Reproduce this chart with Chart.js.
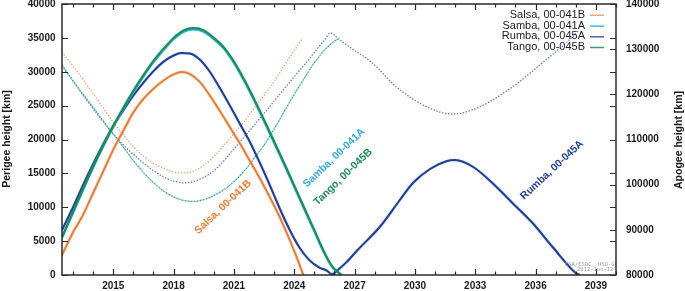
<!DOCTYPE html>
<html><head><meta charset="utf-8">
<script src="https://cdn.jsdelivr.net/npm/chart.js@4"></script>
<style>html,body{margin:0;padding:0;background:#fff;}canvas{display:block;}</style>
</head><body>
<canvas id="c" width="685" height="291"></canvas>
<script>
// ---- tick labels ----
const xTickYears = [2015, 2018, 2021, 2024, 2027, 2030, 2033, 2036, 2039];
const perigeeTicks = [0, 5000, 10000, 15000, 20000, 25000, 30000, 35000, 40000];
const apogeeTicks = [80000, 90000, 100000, 110000, 120000, 130000, 140000];

// ---- perigee (solid lines, left axis) ----
const salsaPeriYears = [2012.45, 2013.0, 2013.5, 2014.0, 2014.5, 2015.0, 2015.5, 2016.0, 2016.5, 2017.0, 2017.5, 2018.0, 2018.4, 2018.8, 2019.3, 2019.8, 2020.3, 2020.8, 2021.3, 2021.8, 2022.3, 2022.8, 2023.3, 2023.8, 2024.2, 2024.45];
const salsaPeriKm    = [2950, 6300, 8900, 12100, 15300, 18500, 21300, 24000, 26000, 27500, 28700, 29600, 29950, 29700, 28500, 26500, 24200, 21800, 19400, 16800, 14200, 11400, 8400, 5000, 2000, 0];

const sambaPeriYears = [2012.45, 2013.0, 2013.5, 2014.0, 2014.5, 2015.0, 2015.5, 2016.0, 2016.5, 2017.0, 2017.5, 2018.0, 2018.5, 2019.0, 2019.5, 2020.0, 2020.5, 2021.0, 2021.5, 2022.0, 2022.5, 2023.0, 2023.5, 2024.0, 2024.5, 2025.0, 2025.5, 2025.9, 2026.35];
const sambaPeriKm    = [5500, 9200, 12600, 15900, 19000, 21900, 24550, 27000, 29300, 31400, 33200, 34800, 35900, 36250, 35900, 34800, 33400, 31300, 28700, 25800, 22700, 19500, 16300, 13000, 9700, 6450, 3200, 1150, 0];

const rumbaPeriYears = [2012.45, 2013.0, 2013.5, 2014.0, 2014.5, 2015.0, 2015.5, 2016.0, 2016.5, 2017.0, 2017.5, 2018.0, 2018.4, 2018.8, 2019.3, 2019.8, 2020.3, 2020.8, 2021.3, 2021.75, 2022.25, 2022.75, 2023.25, 2023.75, 2024.25, 2024.75, 2025.25, 2025.6, 2025.88, 2026.15, 2026.6, 2027.15, 2028.25, 2029.25, 2029.9, 2030.75, 2031.6, 2032.0, 2032.9, 2033.85, 2034.85, 2035.85, 2036.85, 2038.0, 2038.2];
const rumbaPeriKm    = [6640, 10000, 13300, 16400, 19300, 22000, 24300, 26500, 28400, 30100, 31500, 32400, 32750, 32700, 31800, 30000, 27600, 25000, 22300, 19900, 16800, 13500, 10000, 6800, 4100, 2200, 1100, 700, 100, 700, 1900, 3690, 7085, 11070, 13580, 15650, 16830, 16970, 15940, 13580, 10630, 7675, 4130, 300, 0];

const tangoPeriYears = [2012.45, 2013.0, 2013.5, 2014.0, 2014.5, 2015.0, 2015.5, 2016.0, 2016.5, 2017.0, 2017.5, 2018.0, 2018.5, 2019.0, 2019.5, 2020.0, 2020.5, 2021.0, 2021.5, 2022.0, 2022.5, 2023.0, 2023.5, 2024.0, 2024.5, 2025.0, 2025.5, 2025.9, 2026.35];
const tangoPeriKm    = [5600, 9300, 12700, 16000, 19100, 22000, 24700, 27200, 29500, 31600, 33400, 35000, 36100, 36450, 36100, 35000, 33600, 31500, 28900, 26000, 22900, 19700, 16500, 13200, 9900, 6600, 3300, 1200, 0];

// ---- apogee (dotted lines, right axis) ----
const salsaApoYears = [2012.45, 2013.0, 2013.5, 2014.0, 2014.5, 2015.0, 2015.5, 2016.0, 2016.5, 2017.0, 2017.5, 2018.0, 2018.5, 2019.0, 2019.5, 2020.0, 2020.5, 2021.0, 2021.5, 2022.0, 2022.5, 2023.0, 2023.5, 2024.0, 2024.42];
const salsaApoKm    = [129370, 126200, 123300, 120100, 117000, 113800, 111000, 108400, 106300, 104700, 103600, 102800, 102600, 103000, 104300, 106200, 108700, 111300, 113900, 116900, 119800, 122900, 126300, 129700, 132470];

const sambaApoYears = [2012.45, 2013.0, 2013.5, 2014.0, 2014.5, 2015.0, 2015.5, 2016.0, 2016.5, 2017.0, 2017.5, 2018.0, 2018.5, 2019.0, 2019.5, 2020.0, 2020.5, 2021.0, 2021.5, 2022.0, 2022.5, 2023.0, 2023.5, 2024.0, 2024.5, 2025.0, 2025.5, 2026.0, 2026.25];
const sambaApoKm    = [126500, 123000, 120000, 117100, 114100, 111200, 108300, 105300, 102700, 100400, 98600, 97300, 96500, 96300, 96700, 97600, 98900, 100700, 103000, 105800, 108800, 112300, 116200, 120000, 123600, 127000, 129800, 131800, 132500];

const rumbaApoYears = [2012.45, 2013.0, 2013.5, 2014.0, 2014.5, 2015.0, 2015.5, 2016.0, 2016.5, 2017.0, 2017.5, 2018.0, 2018.5, 2019.0, 2019.5, 2020.0, 2020.5, 2021.0, 2021.5, 2022.0, 2022.5, 2023.0, 2023.5, 2024.0, 2024.5, 2025.0, 2025.5, 2025.8, 2026.2, 2026.75, 2027.89, 2029.08, 2030.72, 2031.86, 2033.2, 2034.84, 2036.33, 2037.67, 2038.17];
const rumbaApoKm    = [126270, 122900, 119800, 116800, 113900, 111200, 108800, 106700, 104800, 103100, 101700, 100800, 100400, 100700, 101600, 103100, 105300, 107900, 110500, 113100, 115800, 118500, 121200, 123900, 126500, 129300, 132000, 133600, 132300, 130480, 126940, 121620, 116970, 115650, 117200, 121620, 126940, 132030, 134240];

const tangoApoYears = [2012.45, 2013.0, 2013.5, 2014.0, 2014.5, 2015.0, 2015.5, 2016.0, 2016.5, 2017.0, 2017.5, 2018.0, 2018.5, 2019.0, 2019.5, 2020.0, 2020.5, 2021.0, 2021.5, 2022.0, 2022.5, 2023.0, 2023.5, 2024.0, 2024.5, 2025.0, 2025.5, 2026.0, 2026.25];
const tangoApoKm    = [126490, 123000, 120000, 117100, 114100, 111200, 108300, 105300, 102700, 100400, 98600, 97300, 96500, 96300, 96700, 97600, 98900, 100700, 103000, 105800, 108800, 112300, 116200, 120000, 123600, 127000, 129800, 131800, 132470];

// ---- names ----
const names = ['Salsa, 00-041B', 'Samba, 00-041A', 'Rumba, 00-045A', 'Tango, 00-045B'];

function pts(xs, ys) { return xs.map((x, i) => ({ x: x, y: ys[i] })); }

const FONT = '"Liberation Sans", Arial, Helvetica, sans-serif';
const solidCol = { salsa: '#ef7a30', samba: '#36aee3', rumba: '#1e3f99', tango: '#178e57' };
const dotCol   = { salsa: '#f3a377', samba: '#86d3d8', rumba: '#6176c0', tango: '#3b9e7c' };
const legendCol = ['#f4a274', '#3cb6e8', '#4a62b0', '#3c9c6c'];

function solid(data, col, halo, order) {
  return { data: data, yAxisID: 'y', borderColor: col, borderWidth: 2, pointRadius: 0,
    cubicInterpolationMode: 'monotone', fill: false, halo: halo, order: order };
}
function dotted(data, col, order, offset) {
  return { data: data, yAxisID: 'y2', borderColor: col, borderWidth: 1.3, pointRadius: 0,
    borderDash: [1.4, 1.6], borderDashOffset: offset || 0,
    cubicInterpolationMode: 'monotone', fill: false, order: order };
}

const overlay = {
  id: 'overlay',
  beforeDatasetDraw(chart, args) {
    const ds = chart.data.datasets[args.index];
    if (ds.halo) { const ctx = chart.ctx; ctx.save(); ctx.shadowColor = ds.halo; ctx.shadowBlur = 1.5; }
  },
  afterDatasetDraw(chart, args) {
    if (chart.data.datasets[args.index].halo) chart.ctx.restore();
  },
  afterDraw(chart) {
    const ctx = chart.ctx, a = chart.chartArea;
    const sx = chart.scales.x, sy = chart.scales.y, sy2 = chart.scales.y2;
    ctx.save();
    // watermark (clipped)
    ctx.save();
    ctx.beginPath(); ctx.rect(a.left, a.top, a.right - a.left, a.bottom - a.top); ctx.clip();
    ctx.fillStyle = '#9a9a9a';
    ctx.font = '5.5px "DejaVu Sans Mono", monospace';
    ctx.textAlign = 'left'; ctx.textBaseline = 'middle';
    ctx.fillText('ESA/ESOC, HSO-GR', 565, 265);
    ctx.fillText('2012-Jun-12', 577, 269.5);
    ctx.restore();

    // frame
    ctx.strokeStyle = '#2a2a2a'; ctx.lineWidth = 1.5;
    ctx.strokeRect(a.left, a.top, a.right - a.left, a.bottom - a.top);
    ctx.lineWidth = 1.2;
    ctx.beginPath();
    for (let yr = Math.ceil(sx.min); yr <= sx.max; yr++) {
      const px = Math.round(sx.getPixelForValue(yr)) + 0.5;
      const len = xTickYears.includes(yr) ? 6 : 3.5;
      ctx.moveTo(px, a.bottom); ctx.lineTo(px, a.bottom - len);
      ctx.moveTo(px, a.top); ctx.lineTo(px, a.top + len);
    }
    perigeeTicks.forEach(v => {
      const py = Math.round(sy.getPixelForValue(v)) + 0.5;
      ctx.moveTo(a.left, py); ctx.lineTo(a.left + 6, py);
      ctx.moveTo(a.right, py); ctx.lineTo(a.right - 6, py);
    });
    apogeeTicks.forEach(v => {
      const py = Math.round(sy2.getPixelForValue(v)) + 0.5;
      ctx.moveTo(a.right, py); ctx.lineTo(a.right - 6, py);
    });
    ctx.stroke();

    // tick labels
    ctx.fillStyle = '#1a1a1a';
    ctx.font = 'bold 10px ' + FONT;
    ctx.textBaseline = 'middle';
    ctx.textAlign = 'center';
    xTickYears.forEach(yr => ctx.fillText(String(yr), sx.getPixelForValue(yr), 286));
    ctx.textAlign = 'right';
    perigeeTicks.forEach(v => ctx.fillText(String(v), 55.5, sy.getPixelForValue(v)));
    ctx.textAlign = 'left';
    apogeeTicks.forEach(v => ctx.fillText(String(v), 626, sy2.getPixelForValue(v)));

    // axis titles
    ctx.font = 'bold 10.5px ' + FONT;
    ctx.textAlign = 'center';
    ctx.save(); ctx.translate(7, 139); ctx.rotate(-Math.PI / 2); ctx.fillText('Perigee height [km]', 0, 0); ctx.restore();
    ctx.save(); ctx.translate(679, 140); ctx.rotate(-Math.PI / 2); ctx.fillText('Apogee height [km]', 0, 0); ctx.restore();

    // legend
    ctx.font = '11px ' + FONT;
    ctx.textAlign = 'right';
    const ly = [14.8, 25.6, 36.3, 47];
    names.forEach((n, i) => {
      ctx.fillStyle = '#1a1a1a';
      ctx.fillText(n, 585, ly[i]);
      ctx.strokeStyle = legendCol[i]; ctx.lineWidth = 1.5;
      ctx.beginPath(); ctx.moveTo(590, ly[i] + 0.5); ctx.lineTo(604, ly[i] + 0.5); ctx.stroke();
    });

    // rotated labels
    const labels = [
      { t: names[0], c: '#ee7a32', x: 223, y: 207, r: 43.5 },
      { t: names[1], c: '#33a7e0', x: 334, y: 158, r: 43.6 },
      { t: names[3], c: '#1c8c50', x: 343, y: 177, r: 44 },
      { t: names[2], c: '#21409c', x: 552, y: 170, r: 43 }
    ];
    ctx.font = 'bold 10.5px ' + FONT;
    ctx.textAlign = 'center';
    labels.forEach(l => {
      ctx.save(); ctx.translate(l.x, l.y); ctx.rotate(-l.r * Math.PI / 180);
      ctx.fillStyle = l.c; ctx.fillText(l.t, 0, 0); ctx.restore();
    });
    ctx.restore();
  }
};

new Chart(document.getElementById('c'), {
  type: 'line',
  data: {
    datasets: [
      solid(pts(tangoPeriYears, tangoPeriKm), solidCol.tango, 'rgba(23,142,87,0.45)', 1),
      solid(pts(sambaPeriYears, sambaPeriKm), solidCol.samba, 'rgba(54,174,227,0.45)', 2),
      solid(pts(rumbaPeriYears, rumbaPeriKm), solidCol.rumba, 'rgba(30,63,153,0.4)', 3),
      solid(pts(salsaPeriYears, salsaPeriKm), solidCol.salsa, 'rgba(239,122,48,0.4)', 4),
      dotted(pts(sambaApoYears, sambaApoKm), dotCol.samba, 5, 1.5),
      dotted(pts(tangoApoYears, tangoApoKm), dotCol.tango, 6, 0),
      dotted(pts(rumbaApoYears, rumbaApoKm), dotCol.rumba, 7, 0),
      dotted(pts(salsaApoYears, salsaApoKm), dotCol.salsa, 8, 0)
    ]
  },
  options: {
    responsive: false,
    animation: false,
    devicePixelRatio: 1,
    layout: { padding: { top: 4, left: 0, right: 0, bottom: 0 } },
    plugins: { legend: { display: false }, tooltip: { enabled: false } },
    scales: {
      x: { type: 'linear', position: 'bottom', min: 2012.45, max: 2040,
        grid: { display: false }, border: { display: false }, ticks: { display: false },
        afterFit(s) { s.height = 16; } },
      y: { type: 'linear', position: 'left', min: 0, max: 40000,
        grid: { display: false }, border: { display: false }, ticks: { display: false },
        afterFit(s) { s.width = 62; } },
      y2: { type: 'linear', position: 'right', min: 80000, max: 140000,
        grid: { display: false }, border: { display: false }, ticks: { display: false },
        afterFit(s) { s.width = 69; } }
    }
  },
  plugins: [overlay]
});
</script>
</body></html>
